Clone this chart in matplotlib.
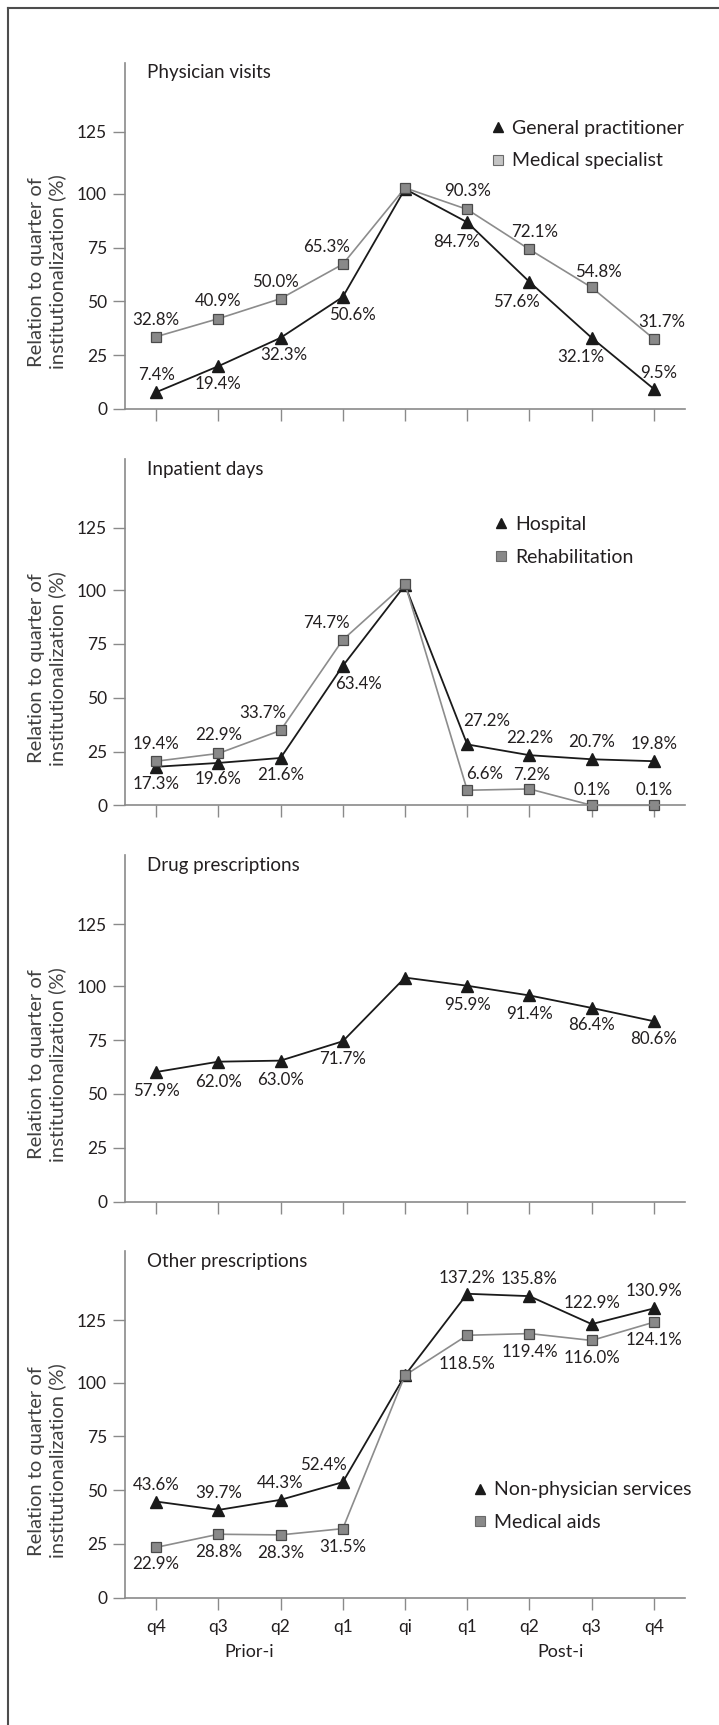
import matplotlib
matplotlib.use("Agg")
import matplotlib.pyplot as plt
from matplotlib.lines import Line2D

plt.rcParams['font.family'] = ['Lato', 'DejaVu Sans']
plt.rcParams['text.color'] = '#231f20'

quarters = ['q4', 'q3', 'q2', 'q1', 'qi', 'q1', 'q2', 'q3', 'q4']

# physician visits
gp_values = [7.8, 19.9, 33.1, 52.1, 102.3, 86.8, 59.1, 33.1, 9.3]
gp_labels = ['7.4%', '19.4%', '32.3%', '50.6%', '', '84.7%', '57.6%', '32.1%', '9.5%']
spec_values = [33.6, 42.0, 51.3, 67.3, 102.8, 92.8, 74.2, 56.5, 32.6]
spec_labels = ['32.8%', '40.9%', '50.0%', '65.3%', '', '90.3%', '72.1%', '54.8%', '31.7%']

# inpatient days
hosp_values = [17.9, 19.7, 22.0, 64.8, 102.3, 28.3, 23.3, 21.4, 20.5]
hosp_labels = ['17.3%', '19.6%', '21.6%', '63.4%', '', '27.2%', '22.2%', '20.7%', '19.8%']
rehab_values = [20.5, 24.1, 34.8, 76.9, 103.0, 7.0, 7.6, 0.0, 0.0]
rehab_labels = ['19.4%', '22.9%', '33.7%', '74.7%', '', '6.6%', '7.2%', '0.1%', '0.1%']

# drug prescriptions
drug_values = [60.2, 65.0, 65.5, 74.5, 104.1, 100.3, 95.8, 90.0, 83.8]
drug_labels = ['57.9%', '62.0%', '63.0%', '71.7%', '', '95.9%', '91.4%', '86.4%', '80.6%']

# other prescriptions
nps_values = [44.7, 40.8, 45.5, 53.7, 103.4, 141.3, 140.2, 127.2, 134.5]
nps_labels = ['43.6%', '39.7%', '44.3%', '52.4%', '', '137.2%', '135.8%', '122.9%', '130.9%']
aids_values = [23.4, 29.5, 29.2, 32.1, 103.4, 122.0, 122.8, 119.6, 128.1]
aids_labels = ['22.9%', '28.8%', '28.3%', '31.5%', '', '118.5%', '119.4%', '116.0%', '124.1%']

# label offsets (pixels, x / y) relative to the point
gp_off = [(0, 17), (0, -18), (3, -17), (10, -18), None, (-11, -20), (-13, -20), (-11, -19), (5, 16)]
spec_off = [(0, 17), (0, 18), (-5, 17), (-16, 17), None, (0, 18), (5, 17), (7, 15), (8, 17)]
hosp_off = [(0, -17), (0, -16), (0, -17), (16, -18), None, (19, 23), (0, 17), (0, 17), (0, 17)]
rehab_off = [(0, 17), (0, 18), (-18, 17), (-16, 17), None, (17, 16), (2, 14), (0, 15), (0, 15)]
drug_off = [(0, -19), (0, -20), (0, -19), (0, -18), None, (0, -19), (0, -19), (0, -17), (0, -18)]
nps_off = [(0, 17), (0, 17), (0, 17), (-19, 17), None, (0, 16), (0, 17), (0, 21), (0, 17)]
aids_off = [(0, -17), (0, -18), (0, -18), (0, -18), None, (0, -29), (0, -18), (0, -18), (0, -18)]

ylabel = 'Relation to quarter of\ninstitutionalization (%)'
axis_grey = '#8a8a8a'
text_col = '#231f20'
px = 0.72  # points per pixel at dpi 100

black_style = dict(color='#1a1a1a', lw=1.3, marker='^', ms=8.6, mfc='#1a1a1a', mec='#1a1a1a')
grey_style = dict(color='#8c8c8c', lw=1.2, marker='s', ms=7.2, mfc='#898989', mec='#4a4a4a', mew=0.9)

panels = [
    dict(title='Physician visits',
         series=[(gp_values, gp_labels, gp_off, black_style),
                 (spec_values, spec_labels, spec_off, grey_style)],
         legend=['General practitioner', 'Medical specialist'],
         legend_sq='#c4c4c4', legend_pos=(0.655, 0.835)),
    dict(title='Inpatient days',
         series=[(hosp_values, hosp_labels, hosp_off, black_style),
                 (rehab_values, rehab_labels, rehab_off, grey_style)],
         legend=['Hospital', 'Rehabilitation'],
         legend_sq='#898989', legend_pos=(0.661, 0.835)),
    dict(title='Drug prescriptions',
         series=[(drug_values, drug_labels, drug_off, black_style)],
         legend=None),
    dict(title='Other prescriptions',
         series=[(nps_values, nps_labels, nps_off, black_style),
                 (aids_values, aids_labels, aids_off, grey_style)],
         legend=['Non-physician services', 'Medical aids'],
         legend_sq='#898989', legend_pos=(0.623, 0.336)),
]

W, H = 719, 1725
fig = plt.figure(figsize=(W / 100, H / 100), dpi=100)

zero_rows = [409, 805.3, 1201.5, 1597.7]
x = list(range(len(quarters)))

for i, p in enumerate(panels):
    ax = fig.add_axes([125 / W, 1 - zero_rows[i] / H, 560 / W, 346.3 / H])
    ax.set_xlim(-0.5, 8.5)
    ax.set_ylim(0, 161)

    for values, labels, offs, style in p['series']:
        ax.plot(x, values, clip_on=False, **style)
        for xi, v, lab, off in zip(x, values, labels, offs):
            if lab:
                ax.annotate(lab, (xi, v), xytext=(off[0] * px, off[1] * px),
                            textcoords='offset points', ha='center', va='center',
                            fontsize=12.2, color=text_col)

    for s in ['top', 'right']:
        ax.spines[s].set_visible(False)
    for s in ['left', 'bottom']:
        ax.spines[s].set_color(axis_grey)
        ax.spines[s].set_linewidth(1.2)

    ax.set_yticks([0, 25, 50, 75, 100, 129], ['0', '25', '50', '75', '100', '125'])
    ax.set_xticks(x)
    if i == len(panels) - 1:
        ax.set_xticklabels(quarters)
        ax.annotate('Prior-i', (1.5, 0), xycoords=('data', 'axes fraction'),
                    xytext=(0, -54 * px), textcoords='offset points',
                    ha='center', va='center', fontsize=13, color=text_col)
        ax.annotate('Post-i', (6.5, 0), xycoords=('data', 'axes fraction'),
                    xytext=(0, -54 * px), textcoords='offset points',
                    ha='center', va='center', fontsize=13, color=text_col)
    else:
        ax.set_xticklabels([])
    ax.tick_params(axis='both', direction='out', length=8.6, width=1.0,
                   color=axis_grey, labelcolor=text_col, labelsize=12.5)
    ax.tick_params(axis='y', pad=4.3)
    ax.tick_params(axis='x', pad=7)

    ax.text(0.039, 0.955, p['title'], transform=ax.transAxes, ha='left',
            va='baseline', fontsize=13.5, color=text_col)
    ax.text(-0.139, 0.396, ylabel, transform=ax.transAxes, rotation=90,
            ha='center', va='center', multialignment='center',
            fontsize=14.5, color='#404040')

    if p['legend']:
        handles = [Line2D([], [], ls='none', marker='^', ms=7.8, mfc='#1a1a1a', mec='#1a1a1a'),
                   Line2D([], [], ls='none', marker='s', ms=6.6, mfc=p['legend_sq'],
                          mec='#6a6a6a', mew=0.8)]
        ax.legend(handles, p['legend'], loc='upper left', bbox_to_anchor=p['legend_pos'],
                  frameon=False, borderpad=0, borderaxespad=0, handlelength=0.6,
                  handletextpad=0.45, labelspacing=0.8, fontsize=14)

# page frame: top and left edge
fig.add_artist(Line2D([8 / W, 1], [1 - 7.5 / H, 1 - 7.5 / H], transform=fig.transFigure,
                      color='#4d4d4d', lw=1.5))
fig.add_artist(Line2D([8 / W, 8 / W], [0, 1 - 7.5 / H], transform=fig.transFigure,
                      color='#4d4d4d', lw=1.5))

fig.savefig('out.png', dpi=100)
